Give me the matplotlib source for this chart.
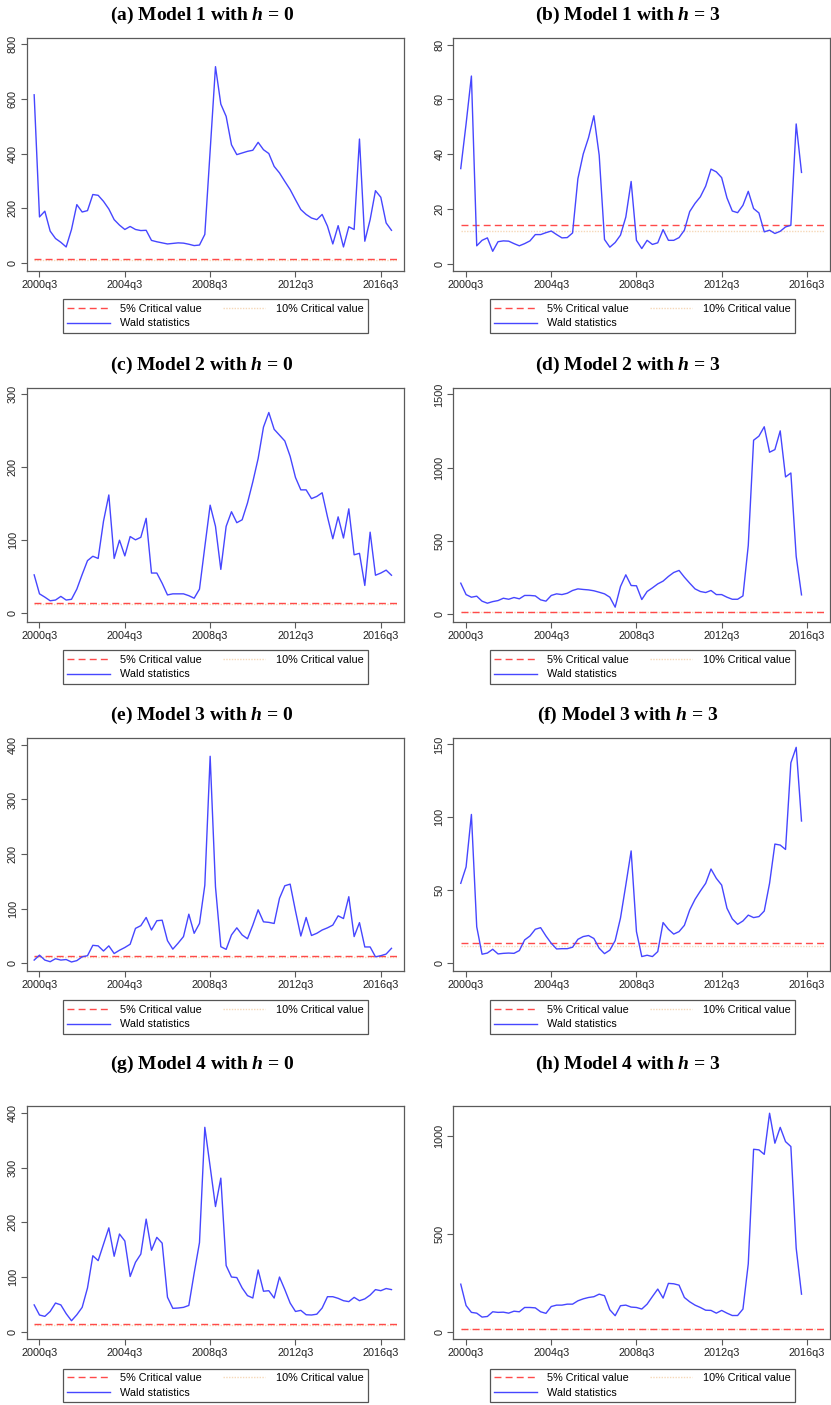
import numpy as np
import matplotlib
matplotlib.use('Agg')
import matplotlib.pyplot as plt

plt.rcParams['font.family'] = ['Liberation Sans', 'DejaVu Sans']
plt.rcParams['mathtext.fontset'] = 'custom'
plt.rcParams['mathtext.it'] = 'Liberation Serif:italic:bold'
plt.rcParams['mathtext.rm'] = 'Liberation Serif:bold'

# quarterly axis: index 0 = 2000q3, series start at 2000q2
tick_pos = [0, 16, 32, 48, 64]
tick_labels = ["2000q3", "2004q3", "2008q3", "2012q3", "2016q3"]

crit5 = 14.07
crit10 = 12.02

# Wald statistics
m1_h0 = [615, 168, 189, 116, 89, 75, 58, 122, 213, 186, 191, 250, 247, 225, 197, 158, 138,
         122, 133, 122, 118, 119, 82, 77, 73, 69, 71, 73, 72, 68, 63, 65, 104, 410, 718, 581,
         536, 432, 396, 402, 408, 412, 441, 414, 400, 353, 329, 298, 268, 231, 195, 177, 164,
         158, 177, 134, 69, 136, 58, 132, 122, 453, 79, 158, 264, 240, 146, 119]
m1_h3 = [34.7, 51, 68.5, 6.5, 8.5, 9.4, 4.5, 8, 8.3, 8.2, 7.3, 6.5, 7.3, 8.3, 10.6, 10.6, 11.3,
         11.9, 10.6, 9.4, 9.5, 11.2, 31, 40, 46, 54, 39.6, 8.8, 6, 7.7, 10.4, 17, 30, 8.5, 5.5,
         8.5, 7, 7.6, 12.4, 8.5, 8.5, 9.5, 12.2, 19, 22, 24.4, 28.3, 34.5, 33.5, 31.4, 24, 19.2,
         18.6, 21.3, 26.4, 20.1, 18.5, 11.6, 12.2, 11, 11.8, 13.4, 14, 51, 33.3]
m2_h0 = [52.5, 26.5, 22, 17, 18, 23, 18, 19, 33, 53, 72, 78, 75, 126, 162, 75, 100, 78.5, 105,
         100.5, 104, 130, 55, 55, 41, 25, 26.5, 26.5, 26.5, 24, 20.5, 33, 91, 148, 119, 60, 119,
         139, 124, 128, 151, 180, 212, 255, 275, 252, 244, 236, 215, 186, 169, 169, 157, 160,
         165, 132, 102, 132, 103, 143, 80, 82, 38, 111, 52, 55, 59, 52]
m2_h3 = [210, 132, 114, 121, 87, 73, 84, 91, 107, 100, 112, 103, 126, 126, 123, 96, 87, 126,
         137, 132, 141, 160, 171, 167, 164, 158, 148, 137, 114, 46, 187, 267, 194, 192, 98, 153,
         178, 205, 224, 256, 283, 297, 251, 210, 171, 153, 146, 160, 132, 132, 114, 100, 100,
         123, 468, 1187, 1215, 1279, 1105, 1123, 1251, 936, 963, 393, 130]
m3_h0 = [6, 15, 6, 3, 8.5, 6, 7, 2.5, 5, 12, 14, 33, 32, 22.6, 32, 18, 24, 29, 35, 64, 69, 84,
         61, 78, 79, 41.5, 26, 37, 49, 90, 55, 73, 143, 379, 140, 30.5, 25.6, 52, 65, 52, 45, 70,
         98, 76, 75, 73, 119, 142, 145, 96, 50, 84, 51, 55, 61, 65, 70, 87, 82, 122, 49, 74.5,
         30, 30, 12, 14, 17, 27.5]
m3_h3 = [54.8, 66, 102, 25, 6.2, 7, 9.6, 6.4, 6.8, 7, 6.8, 8.7, 16, 18.7, 23.3, 24.4, 18.7,
         13.7, 9.8, 10, 10, 11, 16.4, 18.3, 19, 17, 10.3, 6.6, 9, 15.5, 31, 53.6, 77, 21.7, 4.6,
         5.5, 4.6, 8, 27.9, 23.3, 20, 21.7, 26, 36.5, 43.8, 49.5, 54.8, 64.6, 58.2, 53.6, 37.7,
         30.4, 26.7, 29, 33, 31.3, 32, 35.8, 54.8, 81.7, 81, 78, 137.4, 148, 97.5]
m4_h0 = [49, 30.5, 28, 37, 52.4, 49, 33, 20, 31, 44.5, 80, 139, 130, 160, 190, 138, 178.7, 166,
         101, 127, 142, 206, 149, 172.6, 162, 63, 42.7, 43.3, 44.5, 48, 107, 163, 374, 302, 229,
         281, 121, 100, 99, 80, 66, 61.6, 113, 74, 75, 61.6, 100, 77, 52.4, 37, 39, 31, 30.5, 32,
         43.3, 64, 64, 61, 56.7, 55, 62.8, 56.7, 60, 67, 77, 75, 79, 77]
m4_h3 = [243, 134, 99, 95, 75, 78, 102, 99, 100, 95, 105, 102, 124, 124, 122, 102, 94, 129, 136,
         136, 141, 141, 158, 168, 175, 179, 192, 184, 112, 82, 133, 136, 126, 124, 116, 141, 180,
         218, 172, 247, 245, 238, 175, 153, 136, 124, 110, 109, 95, 109, 95, 83, 83, 116, 347,
         932, 929, 906, 1116, 963, 1044, 971, 946, 427, 192]

titles = ["(a) Model 1 with $h$ = 0", "(b) Model 1 with $h$ = 3",
          "(c) Model 2 with $h$ = 0", "(d) Model 2 with $h$ = 3",
          "(e) Model 3 with $h$ = 0", "(f) Model 3 with $h$ = 3",
          "(g) Model 4 with $h$ = 0", "(h) Model 4 with $h$ = 3"]
series = [m1_h0, m1_h3, m2_h0, m2_h3, m3_h0, m3_h3, m4_h0, m4_h3]
y_ticks = [np.arange(0, 801, 200), np.arange(0, 81, 20), np.arange(0, 301, 100),
           np.arange(0, 1501, 500), np.arange(0, 401, 100), np.arange(0, 151, 50),
           np.arange(0, 401, 100), np.arange(0, 1001, 500)]
y_lims = [(-30, 824), (-2.7, 82.5), (-11.4, 309), (-52, 1546),
          (-14, 413), (-5.3, 154.6), (-13.4, 413), (-37, 1153)]

W, H = 831, 1405
fig = plt.figure(figsize=(W / 100, H / 100), dpi=100)

# pixel layout: (axes top, axes bottom, title y, legend y) per row
rows = [(37.7, 271, 15, 316), (387.7, 621.5, 365, 667),
        (737.7, 971, 715, 1017), (1106, 1339, 1064, 1385.5)]
cols = [(26.7, 404, 202, 215.5), (453.3, 830, 628, 642.5)]

blue = '#4646ff'
red = '#ff4a4a'
pale = '#f6d8b8'

for i, vals in enumerate(series):
    r, c = divmod(i, 2)
    top, bot, ty, ly = rows[r]
    x0, x1, tx, lx = cols[c]
    ax = fig.add_axes([x0 / W, 1 - bot / H, (x1 - x0) / W, (bot - top) / H])
    q = np.arange(len(vals)) - 1
    l10, = ax.plot([-1, 67.2], [crit10, crit10], color=pale, lw=1.0,
                   linestyle=(0, (1, 1)), zorder=2)
    l5, = ax.plot([-1, 67.2], [crit5, crit5], color=red, lw=1.0, dashes=(5, 3), zorder=3)
    lw, = ax.plot(q, vals, color=blue, lw=1.0, zorder=4)
    ax.set_xlim(-2.4, 68.35)
    ax.set_ylim(*y_lims[i])
    ax.set_xticks(tick_pos)
    ax.set_xticklabels(tick_labels)
    ax.set_yticks(y_ticks[i])
    ax.set_yticklabels([str(v) for v in y_ticks[i]], rotation=90, va='center')
    for s in ax.spines.values():
        s.set_color('#5a5a5a')
        s.set_linewidth(0.9)
    ax.tick_params(axis='both', length=4, width=0.8, color='#5a5a5a',
                   labelsize=7.8, labelcolor='#222222', pad=2.5)
    fig.text(tx / W, 1 - ty / H, titles[i], ha='center', va='center',
             fontsize=14, fontweight='bold', family='Liberation Serif')
    ax.legend([l5, lw, l10], ["5% Critical value", "Wald statistics", "10% Critical value"],
              loc='center', bbox_to_anchor=(lx / W, 1 - ly / H), bbox_transform=fig.transFigure,
              ncol=2, fontsize=7.8, frameon=True, fancybox=False, edgecolor='#555555',
              framealpha=1, handlelength=3.9, handletextpad=1.0, columnspacing=1.9,
              labelspacing=0.45, borderpad=0.4)
    ax.get_legend().get_frame().set_linewidth(0.9)

fig.savefig('out.png', dpi=100)
